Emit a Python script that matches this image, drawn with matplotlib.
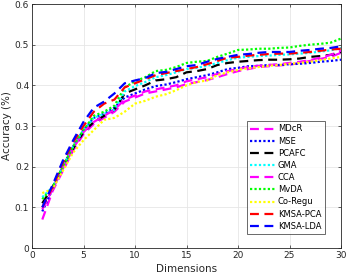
import numpy as np
import matplotlib.pyplot as plt

dims = np.arange(1, 31)

mdcr = [0.07, 0.14, 0.19, 0.24, 0.28, 0.305, 0.32, 0.335, 0.36, 0.37, 0.38, 0.385, 0.39, 0.395,
        0.403, 0.408, 0.413, 0.42, 0.428, 0.435, 0.44, 0.445, 0.447, 0.449, 0.451, 0.455, 0.46,
        0.465, 0.47, 0.48]
mse = [0.09, 0.145, 0.2, 0.25, 0.29, 0.32, 0.33, 0.345, 0.37, 0.38, 0.39, 0.398, 0.402, 0.408,
       0.415, 0.42, 0.425, 0.432, 0.44, 0.443, 0.447, 0.448, 0.45, 0.45, 0.452, 0.453, 0.455,
       0.458, 0.46, 0.463]
pcafc = [0.11, 0.15, 0.2, 0.245, 0.285, 0.31, 0.325, 0.34, 0.38, 0.39, 0.4, 0.412, 0.415, 0.42,
         0.432, 0.435, 0.44, 0.45, 0.455, 0.458, 0.46, 0.462, 0.463, 0.463, 0.464, 0.466, 0.47,
         0.472, 0.475, 0.482]
gma = [0.125, 0.15, 0.2, 0.25, 0.29, 0.32, 0.33, 0.34, 0.385, 0.398, 0.408, 0.42, 0.425, 0.432,
       0.44, 0.443, 0.448, 0.455, 0.462, 0.468, 0.47, 0.472, 0.473, 0.475, 0.476, 0.478, 0.48,
       0.483, 0.486, 0.492]
cca = [0.095, 0.145, 0.195, 0.245, 0.285, 0.31, 0.325, 0.34, 0.365, 0.375, 0.385, 0.39, 0.395,
       0.4, 0.41, 0.415, 0.42, 0.428, 0.435, 0.44, 0.445, 0.448, 0.45, 0.452, 0.455, 0.458, 0.462,
       0.468, 0.475, 0.485]
mvda = [0.12, 0.15, 0.2, 0.25, 0.29, 0.325, 0.335, 0.35, 0.395, 0.41, 0.42, 0.435, 0.438, 0.445,
        0.455, 0.458, 0.46, 0.47, 0.478, 0.487, 0.488, 0.49, 0.49, 0.492, 0.493, 0.497, 0.5,
        0.502, 0.505, 0.515]
coregu = [0.135, 0.145, 0.19, 0.235, 0.265, 0.29, 0.315, 0.32, 0.335, 0.355, 0.362, 0.372, 0.378,
          0.388, 0.4, 0.408, 0.412, 0.425, 0.432, 0.438, 0.442, 0.445, 0.448, 0.45, 0.453, 0.455,
          0.458, 0.462, 0.466, 0.47]
kmsa_pca = [0.1, 0.15, 0.21, 0.26, 0.3, 0.335, 0.355, 0.365, 0.395, 0.405, 0.415, 0.425, 0.43,
            0.435, 0.44, 0.445, 0.452, 0.46, 0.468, 0.47, 0.473, 0.475, 0.477, 0.478, 0.478, 0.48,
            0.482, 0.485, 0.488, 0.49]
kmsa_lda = [0.1, 0.155, 0.215, 0.265, 0.31, 0.345, 0.36, 0.38, 0.405, 0.412, 0.418, 0.43, 0.433,
            0.44, 0.447, 0.45, 0.458, 0.465, 0.47, 0.475, 0.477, 0.48, 0.482, 0.482, 0.482, 0.485,
            0.487, 0.49, 0.492, 0.496]

series = [
    ("MDcR", mdcr, "#ff00ff", (0, (4, 2.5))),
    ("MSE", mse, "#0000ff", (0, (1, 1))),
    ("PCAFC", pcafc, "#000000", (0, (4, 2.5))),
    ("GMA", gma, "#00ffff", (0, (1, 1))),
    ("CCA", cca, "#ff00ff", (0, (4, 2.5))),
    ("MvDA", mvda, "#00ff00", (0, (1, 1))),
    ("Co-Regu", coregu, "#ffff00", (0, (1, 1))),
    ("KMSA-PCA", kmsa_pca, "#ff0000", (0, (4, 2.5))),
    ("KMSA-LDA", kmsa_lda, "#0000ff", (0, (4, 2.5))),
]

fig = plt.figure(figsize=(3.46, 2.77), dpi=100)
ax = fig.add_axes([32 / 346, 1 - 248 / 277, 309 / 346, 244 / 277])

for name, vals, color, ls in series:
    ax.plot(dims, vals, color=color, linestyle=ls, linewidth=1.6, label=name)

ax.set_xlim(0, 30)
ax.set_ylim(0, 0.6)
ax.set_xticks([0, 5, 10, 15, 20, 25, 30])
ax.set_yticks([0, 0.1, 0.2, 0.3, 0.4, 0.5, 0.6])
ax.set_yticklabels(["0", "0.1", "0.2", "0.3", "0.4", "0.5", "0.6"])
ax.grid(True, color="#e6e6e6", linewidth=0.6)
ax.set_axisbelow(True)
ax.tick_params(labelsize=6.5, colors="#262626", length=2, width=0.5, direction="in",
               top=True, right=True, pad=2)
for s in ax.spines.values():
    s.set_color("#262626")
    s.set_linewidth(0.6)
ax.set_xlabel("Dimensions", fontsize=7.5, color="#262626", labelpad=3)
ax.set_ylabel("Accuracy (%)", fontsize=7.5, color="#262626", labelpad=2)

leg = ax.legend(loc="upper left", bbox_to_anchor=(0.696, 0.52), fontsize=6,
                frameon=True, fancybox=False, handlelength=3.0, handletextpad=0.3,
                labelspacing=0.38, borderpad=0.4, borderaxespad=0)
leg.get_frame().set_edgecolor("#262626")
leg.get_frame().set_linewidth(0.6)

fig.savefig("out.png", dpi=100)
